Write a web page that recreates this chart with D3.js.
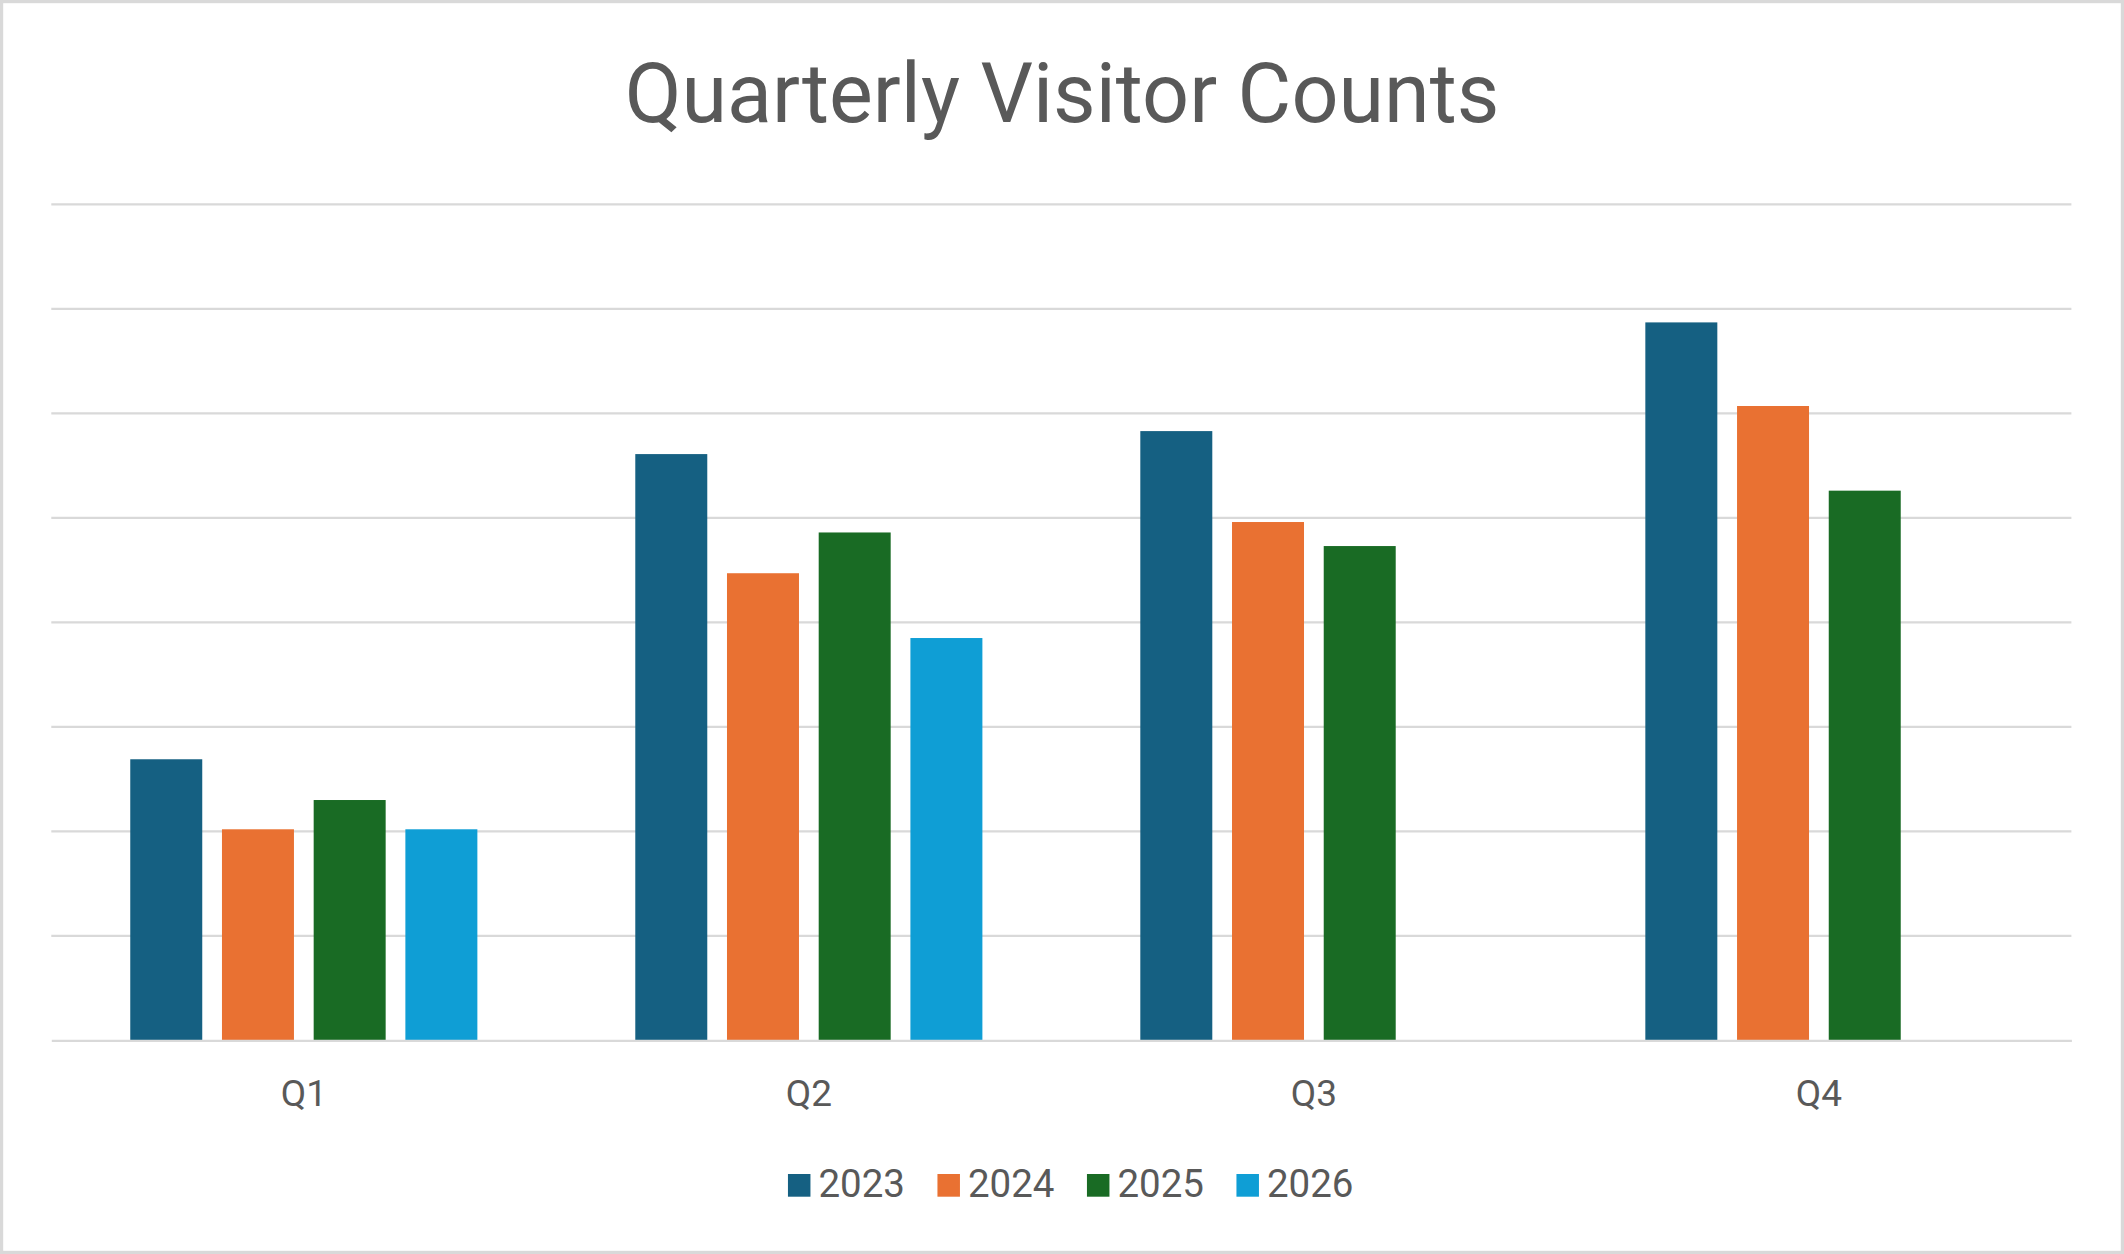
<!DOCTYPE html>
<html>
<head>
<meta charset="utf-8">
<script src="https://cdn.jsdelivr.net/npm/d3@7"></script>
<style>
  html, body { margin: 0; padding: 0; background: #fff; }
  svg { display: block; }
  text { font-family: Roboto, "Liberation Sans", sans-serif; fill: #595959; }
</style>
</head>
<body>
<div id="chart"></div>
<script>
// chart data
const quarters = ['Q1', 'Q2', 'Q3', 'Q4'];
const years = ['2023', '2024', '2025', '2026'];
const visitors2023 = [2690, 5610, 5830, 6870];
const visitors2024 = [2020, 4470, 4960, 6070];
const visitors2025 = [2300, 4860, 4730, 5260];
const visitors2026 = [2020, 3850, null, null];
const yTicks = [0, 1000, 2000, 3000, 4000, 5000, 6000, 7000, 8000];
const colors = ['#156082', '#e97132', '#196b24', '#0f9ed5'];

const seriesValues = [visitors2023, visitors2024, visitors2025, visitors2026];

let width = 2124,
    height = 1254,
    margin = { top: 204.3, right: 52.6, bottom: 213.6, left: 51.3 };

let svg = d3.select('#chart')
  .append('svg')
  .attr('width', width)
  .attr('height', height);

// chart border
svg.append('rect')
  .attr('x', 1.6).attr('y', 1.6)
  .attr('width', width - 3.2).attr('height', height - 3.2)
  .attr('fill', '#fff')
  .attr('stroke', '#d9d9d9')
  .attr('stroke-width', 3.2);

svg.append('text')
  .attr('x', width / 2)
  .attr('y', 121.7)
  .attr('text-anchor', 'middle')
  .style('font-size', '82.6px')
  .text('Quarterly Visitor Counts');

let x0 = d3.scaleBand()
  .domain(quarters)
  .range([margin.left, width - margin.right])
  .padding(0);

let x1 = d3.scaleBand()
  .domain(years)
  .range([0, x0.bandwidth()])
  .paddingInner(0.215)
  .paddingOuter(0.861);

let y = d3.scaleLinear()
  .domain([0, 8000])
  .range([height - margin.bottom, margin.top]);

let color = d3.scaleOrdinal().domain(years).range(colors);

// gridlines
svg.append('g')
  .selectAll('line')
  .data(yTicks.filter(d => d > 0))
  .enter().append('line')
  .attr('x1', margin.left)
  .attr('x2', width - margin.right)
  .attr('y1', d => y(d))
  .attr('y2', d => y(d))
  .attr('stroke', '#d9d9d9')
  .attr('stroke-width', 2.3);

let rows = [];
quarters.forEach((q, qi) => {
  years.forEach((yr, si) => {
    let v = seriesValues[si][qi];
    if (v != null) rows.push({ quarter: q, year: yr, value: v });
  });
});

svg.append('g')
  .selectAll('rect')
  .data(rows)
  .enter().append('rect')
  .attr('x', d => x0(d.quarter) + x1(d.year))
  .attr('y', d => y(d.value))
  .attr('width', x1.bandwidth())
  .attr('height', d => y(0) - y(d.value))
  .attr('fill', d => color(d.year));

// category axis
let xAxis = svg.append('g')
  .attr('transform', 'translate(0,' + y(0) + ')')
  .call(d3.axisBottom(x0).tickSize(0).tickPadding(0));

xAxis.select('.domain')
  .attr('stroke', '#d9d9d9')
  .attr('stroke-width', 2.3);

xAxis.selectAll('text')
  .attr('dy', null)
  .attr('y', 65.3)
  .style('font-size', '37px')
  .style('font-family', 'Roboto, sans-serif')
  .attr('fill', '#595959');

// legend
let legendStep = 149.5,
    legendItemWidth = 115;
let legendStart = 1069.7 - (legendStep * (years.length - 1) + legendItemWidth) / 2;
let legend = svg.append('g')
  .attr('transform', 'translate(' + legendStart + ',0)');

let items = legend.selectAll('g')
  .data(years)
  .enter().append('g')
  .attr('transform', (d, i) => 'translate(' + (i * legendStep) + ',0)');

items.append('rect')
  .attr('x', 0)
  .attr('y', 1174)
  .attr('width', 22.5)
  .attr('height', 22.7)
  .attr('fill', d => color(d));

items.append('text')
  .attr('x', 30.5)
  .attr('y', 1196.7)
  .style('font-size', '38.5px')
  .text(d => d);
</script>
</body>
</html>
